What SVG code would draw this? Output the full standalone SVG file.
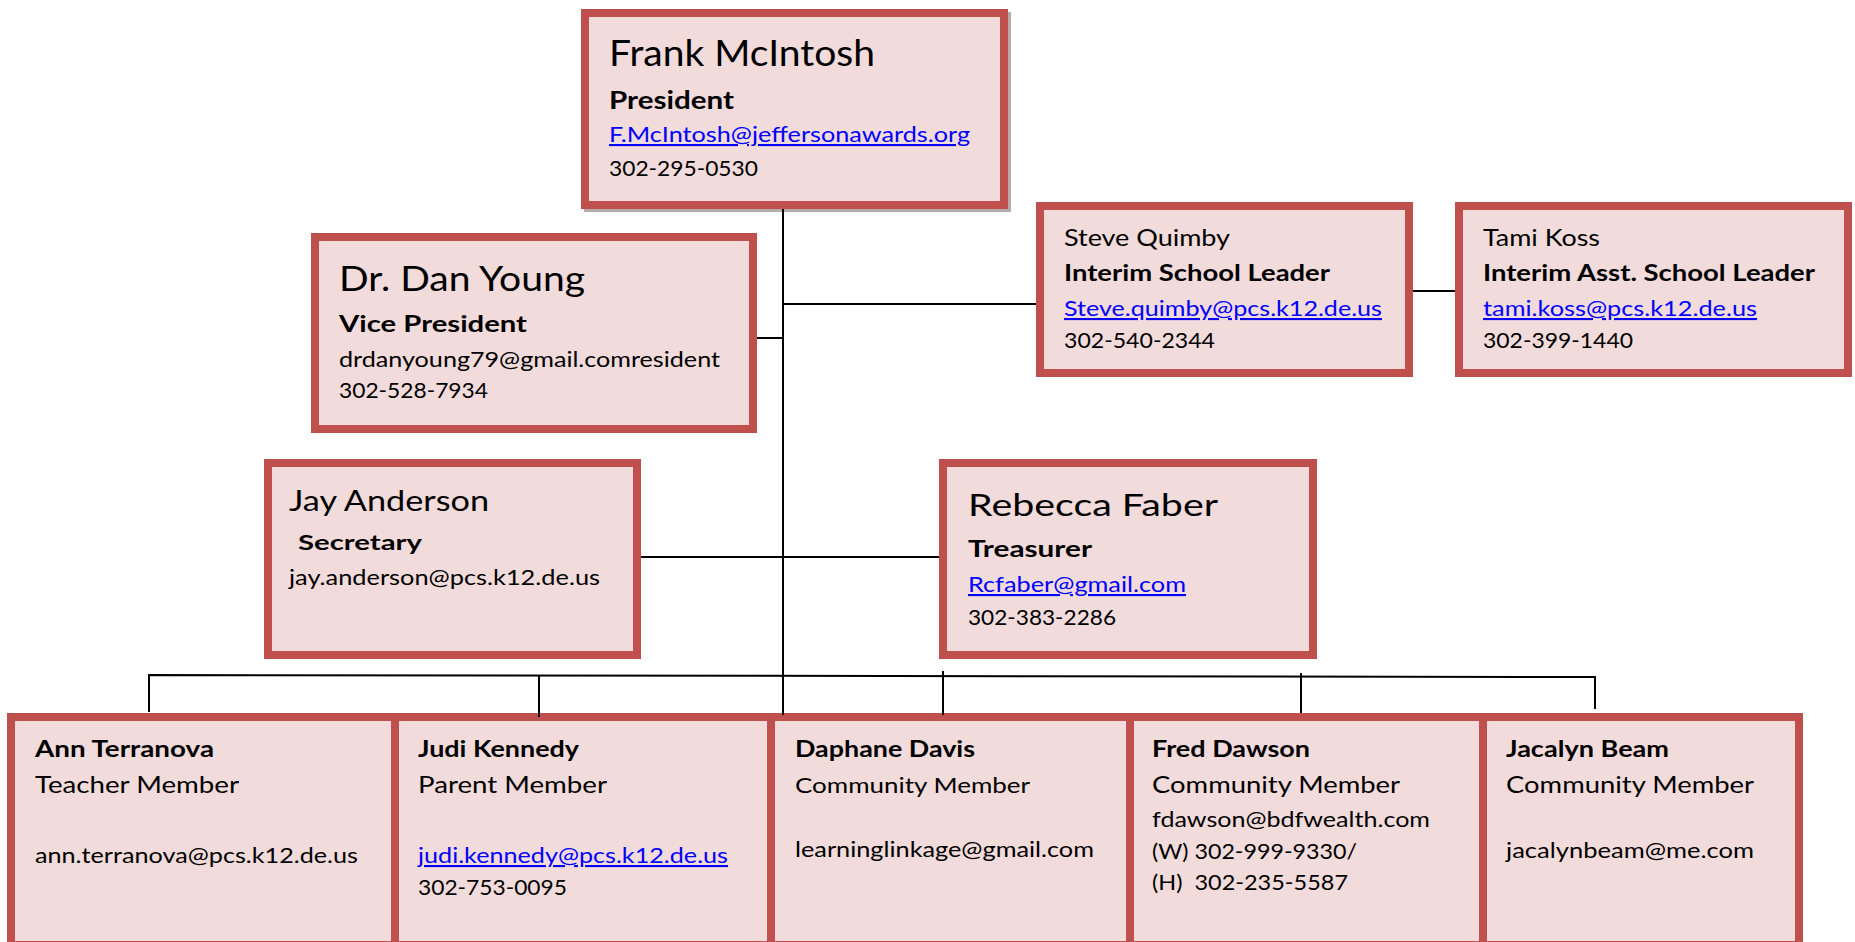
<svg xmlns="http://www.w3.org/2000/svg" width="1855" height="942" viewBox="0 0 1855 942">
<style>
.box{fill:#F2DBDB;stroke:#C0504D;stroke-width:8}
.shadow{fill:#B9AAAA}
text{font-family:Lato,"Liberation Sans",sans-serif;fill:#000}
.b{font-weight:bold}
.lk{fill:#0000FF;text-decoration:underline}
.pre{white-space:pre}
.con{stroke:#000;stroke-width:2;fill:none}
</style>
<rect width="1855" height="942" fill="#fff"/>
<g id="frank">
<rect class="shadow" x="584" y="12" width="427" height="200"/>
<rect class="box" x="585" y="13" width="419" height="192"/>
<text x="609" y="66" font-size="36" textLength="266" lengthAdjust="spacingAndGlyphs">Frank McIntosh</text>
<text class="b" x="609" y="109" font-size="25" textLength="125" lengthAdjust="spacingAndGlyphs">President</text>
<text class="lk" x="609" y="142" font-size="21" textLength="361" lengthAdjust="spacingAndGlyphs">F.McIntosh@jeffersonawards.org</text>
<text x="609" y="176" font-size="21" textLength="149" lengthAdjust="spacingAndGlyphs">302-295-0530</text>
</g>
<g id="dan">
<rect class="box" x="315" y="237" width="438" height="192"/>
<text x="339" y="291" font-size="34" textLength="246" lengthAdjust="spacingAndGlyphs">Dr. Dan Young</text>
<text class="b" x="339" y="332" font-size="23" textLength="188" lengthAdjust="spacingAndGlyphs">Vice President</text>
<text x="339" y="367" font-size="21" textLength="381" lengthAdjust="spacingAndGlyphs">drdanyoung79@gmail.comresident</text>
<text x="339" y="398" font-size="21" textLength="149" lengthAdjust="spacingAndGlyphs">302-528-7934</text>
</g>
<g id="steve">
<rect class="box" x="1040" y="206" width="369" height="167"/>
<text x="1064" y="246" font-size="24" textLength="166" lengthAdjust="spacingAndGlyphs">Steve Quimby</text>
<text class="b" x="1064" y="281" font-size="22" textLength="266" lengthAdjust="spacingAndGlyphs">Interim School Leader</text>
<text class="lk" x="1064" y="316" font-size="21" textLength="318" lengthAdjust="spacingAndGlyphs">Steve.quimby@pcs.k12.de.us</text>
<text x="1064" y="348" font-size="21" textLength="151" lengthAdjust="spacingAndGlyphs">302-540-2344</text>
</g>
<g id="tami">
<rect class="box" x="1459" y="206" width="389" height="167"/>
<text x="1483" y="246" font-size="24" textLength="117" lengthAdjust="spacingAndGlyphs">Tami Koss</text>
<text class="b" x="1483" y="281" font-size="22" textLength="332" lengthAdjust="spacingAndGlyphs">Interim Asst. School Leader</text>
<text class="lk" x="1483" y="316" font-size="21" textLength="274" lengthAdjust="spacingAndGlyphs">tami.koss@pcs.k12.de.us</text>
<text x="1483" y="348" font-size="21" textLength="150" lengthAdjust="spacingAndGlyphs">302-399-1440</text>
</g>
<g id="jay">
<rect class="box" x="268" y="463" width="369" height="192"/>
<text x="289" y="511" font-size="28" textLength="200" lengthAdjust="spacingAndGlyphs">Jay Anderson</text>
<text class="b" x="298" y="550" font-size="21" textLength="124" lengthAdjust="spacingAndGlyphs">Secretary</text>
<text x="289" y="585" font-size="21" textLength="311" lengthAdjust="spacingAndGlyphs">jay.anderson@pcs.k12.de.us</text>
</g>
<g id="rebecca">
<rect class="box" x="943" y="463" width="370" height="192"/>
<text x="968" y="516" font-size="31" textLength="250" lengthAdjust="spacingAndGlyphs">Rebecca Faber</text>
<text class="b" x="968" y="557" font-size="22" textLength="124" lengthAdjust="spacingAndGlyphs">Treasurer</text>
<text class="lk" x="968" y="592" font-size="21" textLength="218" lengthAdjust="spacingAndGlyphs">Rcfaber@gmail.com</text>
<text x="968" y="625" font-size="21" textLength="148" lengthAdjust="spacingAndGlyphs">302-383-2286</text>
</g>
<g id="ann">
<rect class="box" x="11" y="717" width="384" height="228"/>
<text class="b" x="35" y="757" font-size="23" textLength="179" lengthAdjust="spacingAndGlyphs">Ann Terranova</text>
<text x="35" y="793" font-size="23" textLength="204" lengthAdjust="spacingAndGlyphs">Teacher Member</text>
<text x="35" y="863" font-size="21" textLength="323" lengthAdjust="spacingAndGlyphs">ann.terranova@pcs.k12.de.us</text>
</g>
<g id="judi">
<rect class="box" x="395" y="717" width="376" height="228"/>
<text class="b" x="418" y="757" font-size="23" textLength="161" lengthAdjust="spacingAndGlyphs">Judi Kennedy</text>
<text x="418" y="793" font-size="23" textLength="189" lengthAdjust="spacingAndGlyphs">Parent Member</text>
<text class="lk" x="418" y="863" font-size="21" textLength="310" lengthAdjust="spacingAndGlyphs">judi.kennedy@pcs.k12.de.us</text>
<text x="418" y="895" font-size="21" textLength="149" lengthAdjust="spacingAndGlyphs">302-753-0095</text>
</g>
<g id="daphane">
<rect class="box" x="771" y="717" width="359" height="228"/>
<text class="b" x="795" y="757" font-size="23" textLength="180" lengthAdjust="spacingAndGlyphs">Daphane Davis</text>
<text x="795" y="793" font-size="22" textLength="235" lengthAdjust="spacingAndGlyphs">Community Member</text>
<text x="795" y="857" font-size="21" textLength="299" lengthAdjust="spacingAndGlyphs">learninglinkage@gmail.com</text>
</g>
<g id="fred">
<rect class="box" x="1130" y="717" width="353" height="228"/>
<text class="b" x="1152" y="757" font-size="23" textLength="158" lengthAdjust="spacingAndGlyphs">Fred Dawson</text>
<text x="1152" y="793" font-size="23" textLength="248" lengthAdjust="spacingAndGlyphs">Community Member</text>
<text x="1152" y="827" font-size="21" textLength="278" lengthAdjust="spacingAndGlyphs">fdawson@bdfwealth.com</text>
<text x="1152" y="859" font-size="21" textLength="205" lengthAdjust="spacingAndGlyphs">(W) 302-999-9330/</text>
<text class="pre" x="1152" y="890" font-size="21" textLength="196" lengthAdjust="spacingAndGlyphs">(H)  302-235-5587</text>
</g>
<g id="jacalyn">
<rect class="box" x="1483" y="717" width="316" height="228"/>
<text class="b" x="1506" y="757" font-size="23" textLength="163" lengthAdjust="spacingAndGlyphs">Jacalyn Beam</text>
<text x="1506" y="793" font-size="23" textLength="248" lengthAdjust="spacingAndGlyphs">Community Member</text>
<text x="1506" y="858" font-size="21" textLength="248" lengthAdjust="spacingAndGlyphs">jacalynbeam@me.com</text>
</g>
<g id="connectors">
<line class="con" x1="783" y1="209" x2="783" y2="715"/>
<line class="con" x1="757" y1="338" x2="783" y2="338"/>
<line class="con" x1="783" y1="304" x2="1036" y2="304"/>
<line class="con" x1="1413" y1="291" x2="1455" y2="291"/>
<line class="con" x1="641" y1="557" x2="939" y2="557"/>
<polyline class="con" points="149,712 149,675 1595,677 1595,709"/>
<line class="con" x1="539" y1="675" x2="539" y2="717"/>
<line class="con" x1="943" y1="671" x2="943" y2="715"/>
<line class="con" x1="1301" y1="673" x2="1301" y2="713"/>
</g>
</svg>
